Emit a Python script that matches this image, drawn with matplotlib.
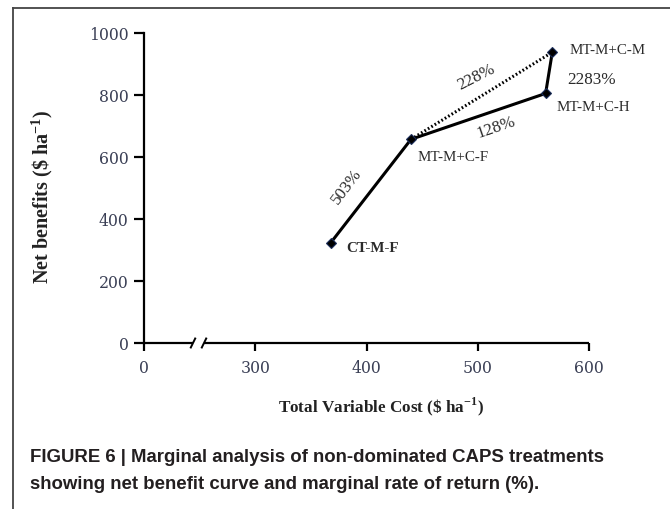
import numpy as np
import matplotlib
matplotlib.use("Agg")
import matplotlib.pyplot as plt
from matplotlib.lines import Line2D

# ---------------- data ----------------
treatments = ["CT-M-F", "MT-M+C-F", "MT-M+C-H", "MT-M+C-M"]
total_variable_cost = [368, 440, 561, 567]
net_benefits = [324, 657, 805, 938]
# marginal rate of return labels: (from index, to index, text)
mrr_segments = [(0, 1, "503%"), (1, 2, "128%"), (1, 3, "228%"), (2, 3, "2283%")]
x_ticks = [0, 300, 400, 500, 600]
x_tick_labels = ["0", "300", "400", "500", "600"]
y_ticks = [0, 200, 400, 600, 800, 1000]
y_tick_labels = ["0", "200", "400", "600", "800", "1000"]

plt.rcParams["mathtext.fontset"] = "custom"
plt.rcParams["mathtext.rm"] = "Liberation Serif"
plt.rcParams["mathtext.bf"] = "Liberation Serif:bold"

W, H = 670, 509
fig = plt.figure(figsize=(W / 100, H / 100), dpi=100)
fig.patch.set_facecolor("white")

left_px, right_px, top_px, bottom_px = 144, 589, 33, 343
ax = fig.add_axes([left_px / W, 1 - bottom_px / H,
                   (right_px - left_px) / W, (bottom_px - top_px) / H])

# broken x axis: values below 300 compressed
def fwd(x):
    x = np.asarray(x, dtype=float)
    return np.where(x >= 300, x, 200 + x / 3.0)

def inv(y):
    y = np.asarray(y, dtype=float)
    return np.where(y >= 300, y, (y - 200) * 3.0)

ax.set_xscale("function", functions=(fwd, inv))
ax.set_xlim(0, 600)
ax.set_ylim(0, 1000)

ink = "black"
# solid net-benefit curve
ax.plot(total_variable_cost[:3], net_benefits[:3],
        color=ink, lw=2.2, solid_capstyle="round", zorder=3)
ax.plot(total_variable_cost[2:4], net_benefits[2:4],
        color=ink, lw=2.2, solid_capstyle="round", zorder=3)
# dotted comparison line
ax.plot([total_variable_cost[1], total_variable_cost[3]],
        [net_benefits[1], net_benefits[3]],
        color=ink, lw=2.2, linestyle=(0, (0.55, 0.75)), zorder=3)
ax.plot(total_variable_cost, net_benefits, linestyle="none", marker="D",
        markersize=5.5, markerfacecolor="black", markeredgecolor="#1b2d5a",
        markeredgewidth=0.8, zorder=4)

label_font = dict(family="Liberation Serif", color="#2a2a2a")
label_offsets = [(15, -6), (7, -18), (11, -14), (17, 2)]
label_weights = ["bold", "normal", "normal", "normal"]
for name, xv, yv, off, wgt in zip(treatments, total_variable_cost, net_benefits,
                                  label_offsets, label_weights):
    ax.annotate(name, (xv, yv), xytext=off, textcoords="offset pixels",
                ha="left", va="center", fontsize=10.8, fontweight=wgt,
                **label_font)

mrr_offsets = [(-24, 4), (18, -11), (-5, 18), (43, -7)]
mrr_rot = [53, 19, 27, 0]
for (i, j, txt), off, rot in zip(mrr_segments, mrr_offsets, mrr_rot):
    mx = (total_variable_cost[i] + total_variable_cost[j]) / 2
    my = (net_benefits[i] + net_benefits[j]) / 2
    ax.annotate(txt, (mx, my), xytext=off, textcoords="offset pixels",
                ha="center", va="center", rotation=rot, fontsize=12.3,
                rotation_mode="anchor", **label_font)

# axes styling
for s in ["top", "right", "bottom"]:
    ax.spines[s].set_visible(False)
ax.spines["left"].set_linewidth(1.6)
ax.set_xticks(x_ticks)
ax.set_xticklabels(x_tick_labels)
ax.set_yticks(y_ticks)
ax.set_yticklabels(y_tick_labels)
ax.tick_params(axis="y", direction="out", length=7, width=1.6, pad=4,
               labelsize=11.3, labelcolor="#3a3f55")
ax.tick_params(axis="x", direction="out", length=6, width=1.6, pad=6,
               labelsize=11.3, labelcolor="#3a3f55")
for lab in ax.get_xticklabels() + ax.get_yticklabels():
    lab.set_family("DejaVu Serif")
ax.minorticks_off()

# bottom axis line with break
bx0, bx1 = (193 - left_px) / (right_px - left_px), (204 - left_px) / (right_px - left_px)
ax.plot([0, bx0], [0, 0], transform=ax.transAxes, color=ink, lw=1.6,
        clip_on=False, solid_capstyle="butt")
ax.plot([bx1, 1], [0, 0], transform=ax.transAxes, color=ink, lw=1.6,
        clip_on=False, solid_capstyle="butt")
dx, dy = 2.2 / (right_px - left_px), 4.5 / (bottom_px - top_px)
for bx in (bx0, bx1):
    ax.plot([bx - dx, bx + dx], [-dy, dy], transform=ax.transAxes, color=ink,
            lw=1.4, clip_on=False)

ax.set_xlabel(r"Total Variable Cost (\$ ha$^{\mathbf{-1}}$)",
              family="Liberation Serif", fontweight="bold", fontsize=12.3,
              color="#222222")
ax.set_ylabel(r"Net benefits (\$ ha$^{\mathbf{-1}}$)",
              family="Liberation Serif", fontweight="bold", fontsize=14.5,
              color="#222222")
ax.xaxis.set_label_coords((381 - left_px) / (right_px - left_px),
                          (bottom_px - 407) / (bottom_px - top_px))
ax.yaxis.set_label_coords((42 - left_px) / (right_px - left_px),
                          (bottom_px - 197) / (bottom_px - top_px))
ax.xaxis.label.set_va("center")
ax.yaxis.label.set_va("center")

# caption
fig.text(30 / W, 1 - 449 / H,
         "FIGURE 6 | Marginal analysis of non-dominated CAPS treatments\n"
         "showing net benefit curve and marginal rate of return (%).",
         family="Liberation Sans", fontweight="bold", fontsize=13.4,
         color="#231f20", ha="left", va="top", linespacing=1.75)

# figure frame (left and top)
fig.add_artist(Line2D([13 / W, 13 / W], [0, 1 - 8 / H], transform=fig.transFigure,
                      color="#444444", lw=1.3))
fig.add_artist(Line2D([13 / W, 1], [1 - 8 / H, 1 - 8 / H], transform=fig.transFigure,
                      color="#444444", lw=1.3))

fig.savefig("out.png", dpi=100)
